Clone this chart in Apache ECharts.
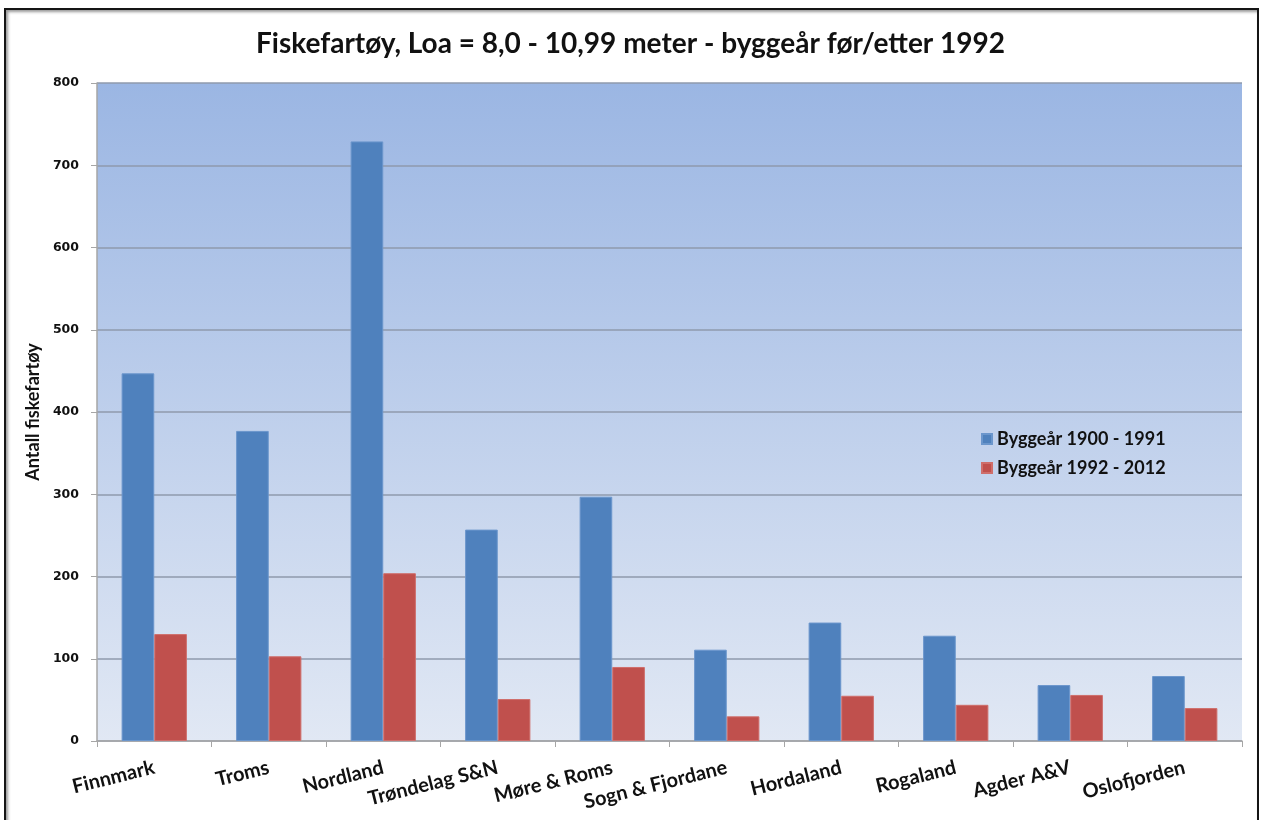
<!DOCTYPE html>
<html>
<head>
<meta charset="utf-8">
<script src="https://cdn.jsdelivr.net/npm/echarts@6/dist/echarts.min.js"></script>
<style>
html,body{margin:0;padding:0;background:#fff;width:1261px;height:820px;overflow:hidden;}
#frame{position:absolute;left:4px;top:8px;width:1251px;height:830px;border:2px solid #151515;box-shadow:inset 2px 2px 3px #999;}
#chart{position:absolute;left:0;top:0;width:1261px;height:820px;}
</style>
</head>
<body>
<div id="frame"></div>
<div id="chart"></div>
<script>
const categories = ['Finnmark','Troms','Nordland','Trøndelag S&N','Møre & Roms','Sogn & Fjordane','Hordaland','Rogaland','Agder A&V','Oslofjorden'];
const seriesNames = ['Byggeår 1900 - 1991','Byggeår 1992 - 2012'];
const before1992 = [447, 377, 729, 257, 297, 111, 144, 128, 68, 79];
const after1992 = [130, 103, 204, 51, 90, 30, 55, 44, 56, 40];
const titleText = 'Fiskefartøy, Loa = 8,0 - 10,99 meter - byggeår før/etter 1992';
const yAxisName = 'Antall fiskefartøy';

const chart = echarts.init(document.getElementById('chart'));
chart.setOption({
  animation: false,
  title: {
    text: titleText, left: 'center', top: 25,
    textStyle: {fontFamily: 'Lato', fontWeight: 'bold', fontSize: 28, color: '#111'}
  },
  legend: {
    orient: 'vertical', left: 976, top: 425, itemGap: 11,
    itemWidth: 10, itemHeight: 10, icon: 'rect',
    textStyle: {fontFamily: 'Lato', fontWeight: 'bold', fontSize: 18, color: '#111'},
    data: seriesNames
  },
  grid: {
    left: 97, right: 19, top: 83, bottom: 79, show: true, borderWidth: 0,
    backgroundColor: new echarts.graphic.LinearGradient(0, 0, 0, 1, [
      {offset: 0, color: '#9bb6e3'},
      {offset: 1, color: '#e1e8f4'}
    ])
  },
  xAxis: {
    type: 'category', data: categories,
    axisLine: {lineStyle: {color: '#a6a6a6', width: 1.5}},
    axisTick: {show: true, length: 6, lineStyle: {color: '#a6a6a6'}},
    axisLabel: {rotate: 14, interval: 0, margin: 26, fontFamily: 'Lato', fontWeight: 'bold', fontSize: 20, color: '#111'}
  },
  yAxis: {
    type: 'value', min: 0, max: 800, interval: 100,
    name: yAxisName, nameLocation: 'middle', nameGap: 43, nameRotate: 90,
    nameTextStyle: {fontFamily: 'Lato', fontWeight: 'bold', fontSize: 18, color: '#111'},
    axisLine: {show: true, lineStyle: {color: '#a6a6a6', width: 1.5}},
    axisTick: {show: true, length: 6, lineStyle: {color: '#a6a6a6'}},
    axisLabel: {margin: 18, fontFamily: 'DejaVu Sans', fontWeight: 'bold', fontSize: 12.5, color: '#111'},
    splitLine: {lineStyle: {color: '#8f9aac', width: 1.5}}
  },
  series: [
    {name: seriesNames[0], type: 'bar', data: before1992, barGap: '0%', barCategoryGap: '43%',
     itemStyle: {color: '#4f81bd', borderColor: '#6b96cc', borderWidth: 1}},
    {name: seriesNames[1], type: 'bar', data: after1992,
     itemStyle: {color: '#c0504d', borderColor: '#cf6e6b', borderWidth: 1}}
  ]
});
</script>
</body>
</html>
